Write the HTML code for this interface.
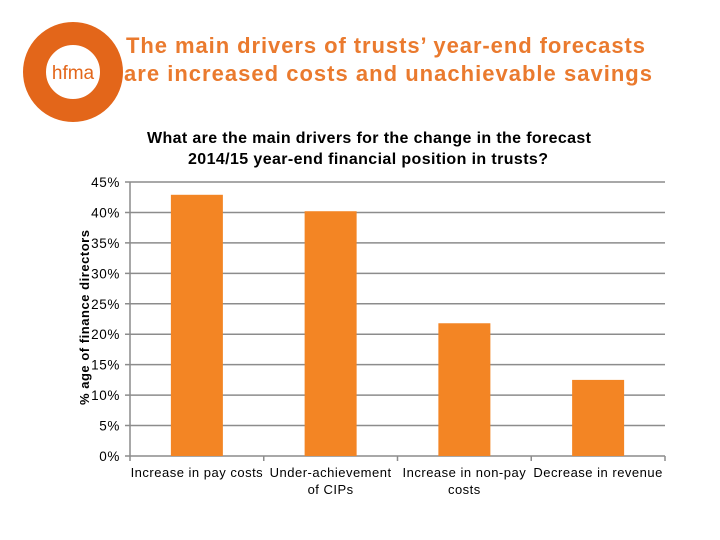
<!DOCTYPE html>
<html><head><meta charset="utf-8"><style>
body{margin:0;width:720px;height:540px;background:#fff;font-family:"Liberation Sans",sans-serif;overflow:hidden}
</style></head><body>
<svg width="720" height="540" style="position:absolute;left:0;top:0">
<g>
<circle cx="73" cy="72" r="38.5" fill="none" stroke="#e3661a" stroke-width="23"/>
<text x="73" y="79" text-anchor="middle" font-size="19" fill="#e3661a" font-family="Liberation Sans">hfma</text>
</g>
<text x="126" y="53" textLength="519" lengthAdjust="spacing" font-size="22" font-weight="bold" fill="#ea7a2e">The main drivers of trusts’ year-end forecasts</text>
<text x="124" y="81" textLength="528" lengthAdjust="spacing" font-size="22" font-weight="bold" fill="#ea7a2e">are increased costs and unachievable savings</text>
<text x="147" y="143" textLength="444" lengthAdjust="spacing" font-size="16" font-weight="bold" fill="#000">What are the main drivers for the change in the forecast</text>
<text x="188" y="164" textLength="360" lengthAdjust="spacing" font-size="16" font-weight="bold" fill="#000">2014/15 year-end financial position in trusts?</text>
<text transform="translate(89,405) rotate(-90)" textLength="175" lengthAdjust="spacing" font-size="13" font-weight="bold" fill="#000">% age of finance directors</text>
<g id="grid"></g><g id="bars"></g><g id="axes"></g>
</svg>
<script>
const categories=[["Increase in pay costs"],["Under-achievement","of CIPs"],["Increase in non-pay","costs"],["Decrease in revenue"]];
const values=[42.9,40.2,21.8,12.5];
const ticks=[0,5,10,15,20,25,30,35,40,45];
const NS="http://www.w3.org/2000/svg";
const x0=130,x1=665,y0=456,y1=182,ymax=45;
const y=v=>y0-(v/ymax)*(y0-y1);
const bw=(x1-x0)/categories.length;
function mk(t,a,p){const e=document.createElementNS(NS,t);for(const k in a)e.setAttribute(k,a[k]);p.appendChild(e);return e;}
const grid=document.getElementById('grid'),bars=document.getElementById('bars'),axes=document.getElementById('axes');
ticks.forEach(t=>{
 const l=mk('line',{x1:x0-5,x2:x1,y1:y(t),y2:y(t),stroke:'#8c8c8c','stroke-width':1.5},grid);
 
 
 const tx=mk('text',{x:120,y:y(t)+5,'text-anchor':'end','font-size':13.5,'letter-spacing':0.6,fill:'#000'},axes);
 tx.textContent=t+'%';
 
 
});
mk('line',{x1:x0,x2:x0,y1:y1,y2:y0+5,stroke:'#8c8c8c','stroke-width':1.5},axes);
values.forEach((v,i)=>{
 const cx=x0+bw*(i+0.5);
 const r=mk('rect',{x:cx-26,width:52,y:y(v),height:y0-y(v),fill:'#f38524'},bars);
 
 
 const tk=mk('line',{x1:x0+bw*(i+1),x2:x0+bw*(i+1),y1:y0,y2:y0+5,stroke:'#8c8c8c','stroke-width':1.5},axes);
 
 
 categories[i].forEach((s,j)=>{
  const t=mk('text',{x:cx,y:477+j*17,'text-anchor':'middle','font-size':13,'letter-spacing':0.5,fill:'#000'},axes);
  t.textContent=s;
  
  
 });
});
</script>
</body></html>
